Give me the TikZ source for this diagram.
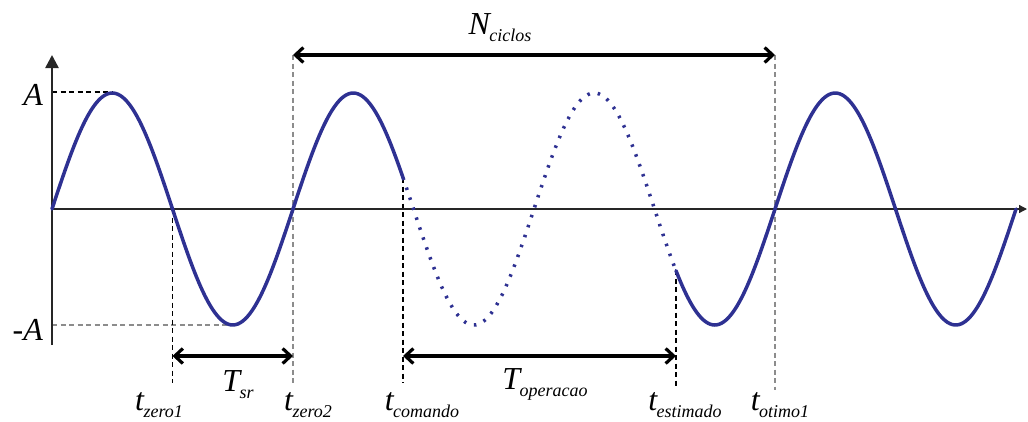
\documentclass[tikz,border=0pt]{standalone}
\usepackage{fontspec}
\setmainfont{Liberation Serif}
\usetikzlibrary{arrows.meta}
\definecolor{wave}{RGB}{46,49,146}
\definecolor{guidegray}{RGB}{140,140,140}
\newcommand\mainsz{\fontsize{32}{32}\selectfont}
\newcommand\subsz{\fontsize{18}{18}\selectfont}
\newcommand\tl[2]{{\mainsz\itshape #1}\kern-0.5pt\raisebox{-7pt}{\subsz\itshape #2}}
\begin{document}
\begin{tikzpicture}[x=1pt,y=-1pt,
  wavesolid/.style={draw=wave, line width=3.5pt, line cap=round},
  wavedot/.style={draw=wave, line width=3.5pt, dash pattern=on 2.5pt off 8pt},
  guide/.style={draw=black, line width=1.2pt, dash pattern=on 5pt off 3.5pt},
  guidelight/.style={guide, draw=guidegray},
  dimarrow/.style={line width=3.2pt, {Straight Barb[length=8pt,width=15pt]}-{Straight Barb[length=8pt,width=15pt]}},
  lab/.style={inner sep=0pt, anchor=base}
]
\useasboundingbox (0,0) rectangle (1028,421);
% reference points
\coordinate (orig) at (52,209);
\coordinate (ybot) at (52,345);
\coordinate (ytop) at (52,55);
\coordinate (xend) at (1027,209);
\coordinate (peakA) at (112,92);
\coordinate (axA) at (52,92);
\coordinate (trough) at (232.75,325);
\coordinate (axmA) at (52,325);
\coordinate (z1a) at (172.5,209);
\coordinate (z1b) at (172.5,383);
\coordinate (z2a) at (293,55);
\coordinate (z2b) at (293,383);
\coordinate (coa) at (403,178);
\coordinate (cob) at (403,383);
\coordinate (esa) at (676,270);
\coordinate (esb) at (676,388);
\coordinate (ota) at (775,55);
\coordinate (otb) at (775,390);
\coordinate (tsrL) at (172.5,356);
\coordinate (tsrR) at (293,356);
\coordinate (topL) at (403,356);
\coordinate (topR) at (676,356);
% guides
\draw[guide] (axA) -- (peakA);
\draw[guidelight] (axmA) -- (trough);
\draw[guide] (z1a) -- (z1b);
\draw[guidelight] (z2a) -- (z2b);
\draw[guide] (coa) -- (cob);
\draw[guide] (esa) -- (esb);
\draw[guidelight] (ota) -- (otb);
% axes
\draw[line width=1.3pt, draw=black!85, -{Triangle[length=8pt,width=8pt]}] (orig) -- (xend);
\draw[line width=2.5pt, draw=black!85, -{Triangle[length=13pt,width=13pt]}] (ybot) -- (ytop);
% wave
\draw[wavesolid] plot[domain=52:403, samples=150, smooth] (\x, {209-116*sin((\x-52)/241*360)});
\draw[wavedot] plot[domain=403:676, samples=150, smooth] (\x, {209-116*sin((\x-52)/241*360)});
\draw[wavesolid] plot[domain=676:1016, samples=150, smooth] (\x, {209-116*sin((\x-52)/241*360)});
% dimension arrows
\draw[dimarrow] (tsrL) -- (tsrR);
\draw[dimarrow] (topL) -- (topR);
\draw[dimarrow] (z2a) -- (ota);
% labels
\node[inner sep=0pt, anchor=base east] (lA) at (43,105) {\mainsz\itshape A};
\node[inner sep=0pt, anchor=base east] (lmA) at (43,340) {\mainsz -\itshape A};
\node[lab] (lz1) at (159,410) {\tl{t}{zero1}};
\node[lab] (lz2) at (308,410) {\tl{t}{zero2}};
\node[lab] (lco) at (422,410) {\tl{t}{comando}};
\node[lab] (les) at (685,410) {\tl{t}{estimado}};
\node[lab] (lot) at (780,410) {\tl{t}{otimo1}};
\node[lab] (ltsr) at (238,391) {\tl{T}{sr}};
\node[lab] (ltop) at (545,389) {\tl{T}{operacao}};
\node[lab] (lnc) at (500,34) {\tl{N}{ciclos}};
\end{tikzpicture}
\end{document}
